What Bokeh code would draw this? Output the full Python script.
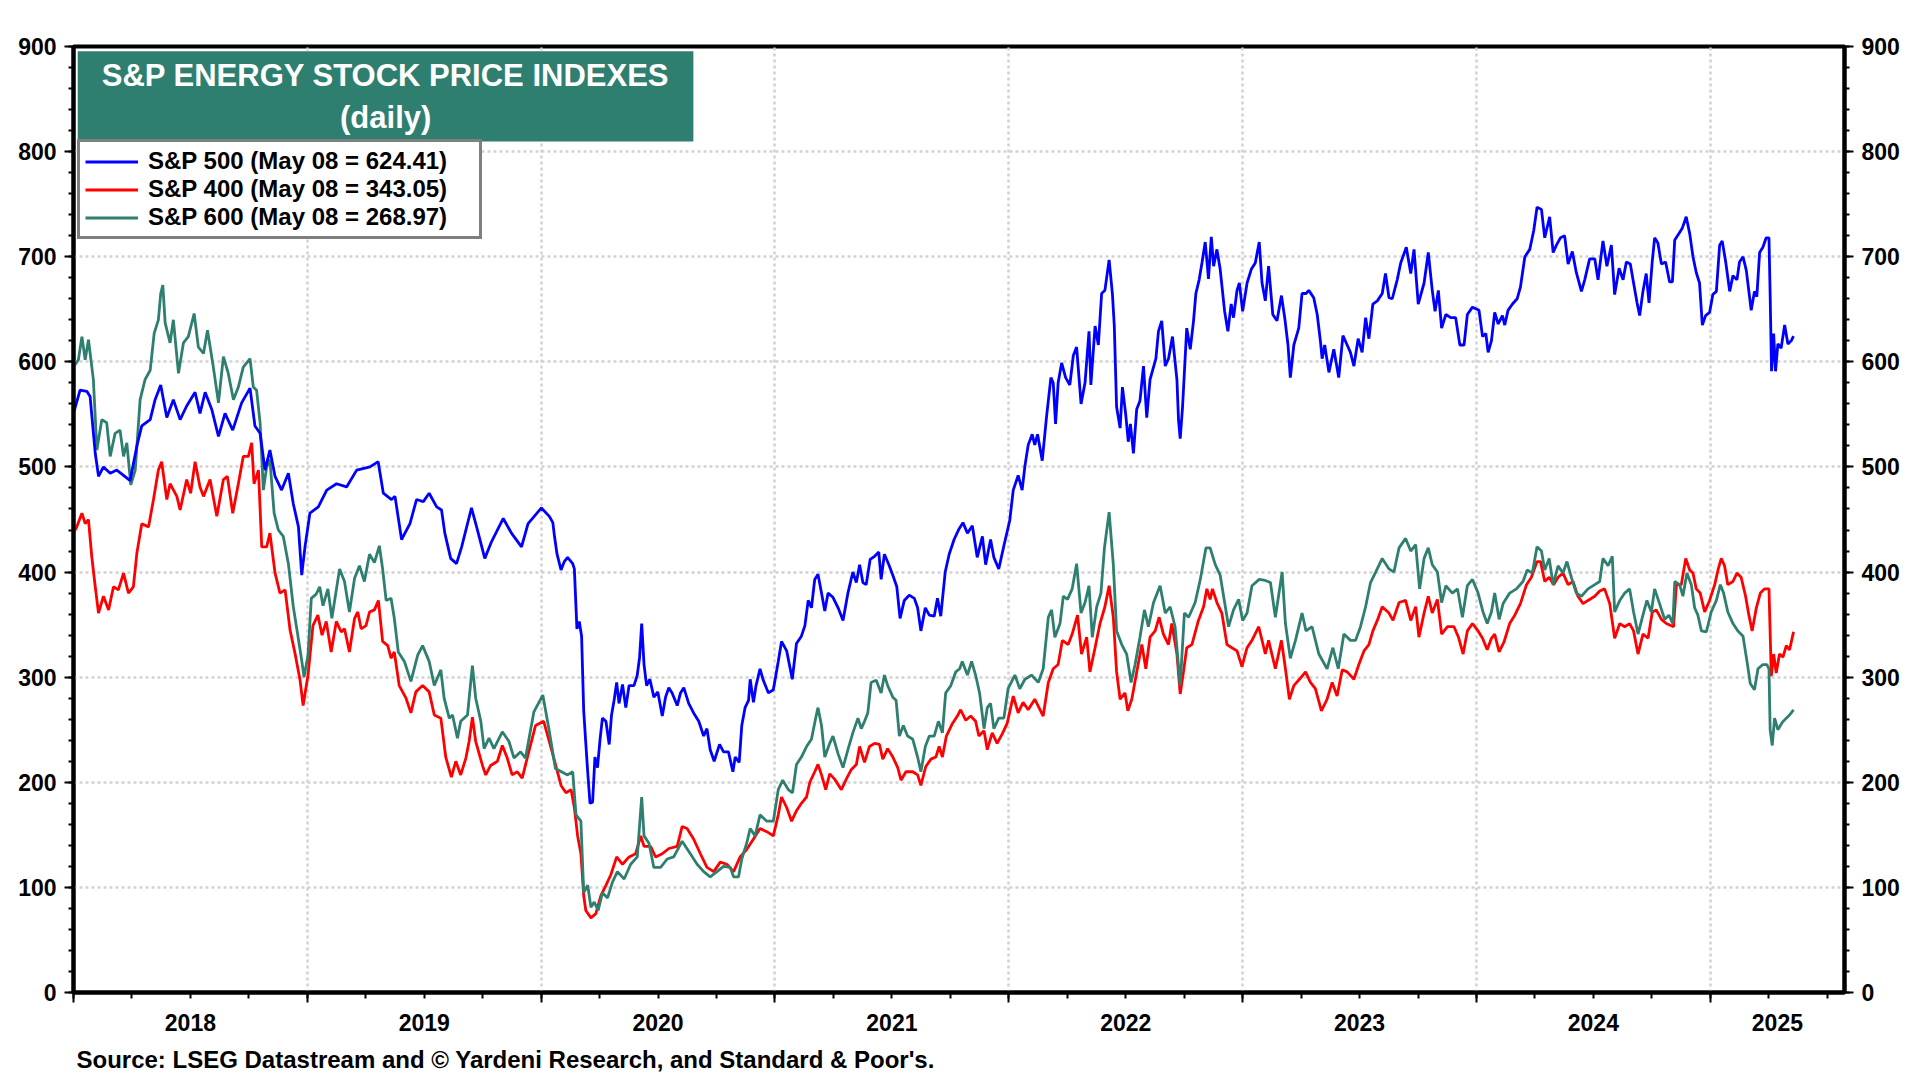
from bokeh.plotting import figure
from bokeh.models import (LinearAxis, FixedTicker, Range1d, Legend, LegendItem,
                          BoxAnnotation, Label, Title, CustomLabelingPolicy)
from bokeh.embed import file_html
from bokeh.resources import INLINE

# ---------------- data (decimal year, index level) ----------------
sp500 = [
(2018.000,551),(2018.028,573),(2018.057,572),(2018.071,567),(2018.093,513),(2018.107,491),(2018.128,500),
(2018.157,494),(2018.185,497),(2018.214,492),(2018.242,487),(2018.271,520),(2018.292,539),(2018.328,545),
(2018.349,564),(2018.373,578),(2018.399,547),(2018.427,564),(2018.456,545),(2018.484,558),(2018.520,571),
(2018.541,551),(2018.563,571),(2018.591,555),(2018.620,529),(2018.648,551),(2018.681,535),(2018.719,561),
(2018.755,575),(2018.776,539),(2018.798,532),(2018.819,497),(2018.840,516),(2018.862,491),(2018.890,478),
(2018.919,494),(2018.940,465),(2018.962,443),(2018.976,397),(2018.990,424),(2019.011,456),(2019.047,462),
(2019.083,478),(2019.125,484),(2019.168,481),(2019.211,497),(2019.268,500),(2019.303,505),(2019.325,475),
(2019.360,469),(2019.375,472),(2019.403,431),(2019.439,446),(2019.467,469),(2019.496,467),(2019.521,475),
(2019.553,462),(2019.574,459),(2019.588,437),(2019.613,413),(2019.638,408),(2019.660,424),(2019.702,461),
(2019.724,443),(2019.759,413),(2019.788,429),(2019.838,451),(2019.873,437),(2019.916,424),(2019.944,446),
(2020.001,461),(2020.035,453),(2020.050,447),(2020.057,434),(2020.068,417),(2020.085,402),(2020.099,410),
(2020.113,414),(2020.135,408),(2020.142,403),(2020.153,346),(2020.163,353),(2020.173,339),(2020.182,268),
(2020.191,237),(2020.199,210),(2020.209,180),(2020.220,181),(2020.230,224),(2020.241,214),(2020.252,241),
(2020.262,261),(2020.277,258),(2020.291,236),(2020.301,264),(2020.312,278),(2020.323,295),(2020.333,275),
(2020.348,293),(2020.362,271),(2020.376,292),(2020.397,292),(2020.411,302),(2020.421,319),(2020.430,351),
(2020.440,312),(2020.451,292),(2020.465,298),(2020.482,281),(2020.499,286),(2020.518,263),(2020.532,281),
(2020.546,290),(2020.560,285),(2020.582,273),(2020.596,285),(2020.610,290),(2020.631,275),(2020.652,266),
(2020.674,258),(2020.695,244),(2020.709,251),(2020.723,231),(2020.740,220),(2020.763,236),(2020.780,229),
(2020.801,229),(2020.820,210),(2020.830,224),(2020.847,219),(2020.858,254),(2020.872,271),(2020.887,278),
(2020.894,298),(2020.908,276),(2020.919,292),(2020.936,308),(2020.950,297),(2020.972,285),(2020.993,288),
(2021.014,315),(2021.028,334),(2021.050,325),(2021.074,298),(2021.092,332),(2021.113,339),(2021.128,349),
(2021.142,373),(2021.156,366),(2021.170,393),(2021.184,398),(2021.199,380),(2021.213,363),(2021.227,380),
(2021.248,376),(2021.270,366),(2021.291,354),(2021.312,380),(2021.333,400),(2021.348,390),(2021.362,407),
(2021.376,390),(2021.390,388),(2021.407,412),(2021.426,415),(2021.444,419),(2021.454,393),(2021.468,417),
(2021.487,407),(2021.504,397),(2021.521,386),(2021.535,356),(2021.553,373),(2021.574,378),(2021.596,375),
(2021.610,366),(2021.624,344),(2021.643,366),(2021.660,359),(2021.681,358),(2021.695,375),(2021.709,358),
(2021.728,400),(2021.745,417),(2021.766,431),(2021.787,441),(2021.804,447),(2021.823,437),(2021.844,444),
(2021.865,414),(2021.887,434),(2021.901,407),(2021.922,431),(2021.936,414),(2021.957,403),(2021.979,425),
(2022.004,449),(2022.019,478),(2022.040,492),(2022.057,478),(2022.069,501),(2022.083,521),(2022.100,531),
(2022.111,521),(2022.123,531),(2022.143,506),(2022.161,547),(2022.180,585),(2022.190,580),(2022.200,541),
(2022.211,580),(2022.226,599),(2022.243,585),(2022.261,578),(2022.276,606),(2022.290,614),(2022.309,560),
(2022.326,580),(2022.343,629),(2022.351,578),(2022.369,634),(2022.383,616),(2022.397,665),(2022.411,668),
(2022.429,697),(2022.443,665),(2022.451,635),(2022.461,557),(2022.476,537),(2022.486,576),(2022.500,550),
(2022.511,524),(2022.520,541),(2022.533,513),(2022.547,555),(2022.561,563),(2022.576,596),(2022.590,547),
(2022.604,583),(2022.629,603),(2022.640,629),(2022.654,639),(2022.669,596),(2022.683,603),(2022.700,624),
(2022.719,583),(2022.726,544),(2022.733,527),(2022.743,557),(2022.761,632),(2022.776,612),(2022.790,639),
(2022.800,665),(2022.814,678),(2022.826,694),(2022.840,714),(2022.854,679),(2022.866,719),(2022.876,691),
(2022.890,707),(2022.904,688),(2022.923,648),(2022.937,629),(2022.951,655),(2022.961,642),(2022.976,668),
(2022.986,675),(2023.000,648),(2023.019,675),(2023.037,688),(2023.054,694),(2023.071,714),(2023.083,675),
(2023.097,658),(2023.111,691),(2023.129,645),(2023.147,639),(2023.166,663),(2023.180,642),(2023.194,616),
(2023.204,585),(2023.219,616),(2023.240,632),(2023.254,665),(2023.271,665),(2023.283,668),(2023.304,661),
(2023.319,645),(2023.333,619),(2023.340,603),(2023.351,616),(2023.369,590),(2023.390,612),(2023.411,585),
(2023.429,625),(2023.447,616),(2023.461,609),(2023.476,596),(2023.494,622),(2023.511,609),(2023.526,642),
(2023.540,622),(2023.557,655),(2023.576,658),(2023.597,665),(2023.611,684),(2023.626,661),(2023.640,660),
(2023.661,678),(2023.676,694),(2023.700,709),(2023.719,684),(2023.733,707),(2023.751,655),(2023.776,675),
(2023.794,704),(2023.811,668),(2023.823,648),(2023.837,668),(2023.851,632),(2023.869,645),(2023.890,642),
(2023.911,642),(2023.929,616),(2023.947,616),(2023.961,645),(2023.983,652),(2024.011,649),(2024.026,624),
(2024.040,627),(2024.050,609),(2024.064,620),(2024.078,647),(2024.093,636),(2024.111,644),(2024.121,635),
(2024.135,649),(2024.154,655),(2024.174,660),(2024.188,671),(2024.207,700),(2024.228,707),(2024.245,725),
(2024.259,747),(2024.278,745),(2024.292,718),(2024.313,738),(2024.328,704),(2024.342,711),(2024.359,718),
(2024.377,720),(2024.392,693),(2024.410,705),(2024.427,685),(2024.449,667),(2024.463,678),(2024.484,698),
(2024.506,698),(2024.520,678),(2024.541,715),(2024.558,691),(2024.577,711),(2024.591,664),(2024.610,689),
(2024.627,678),(2024.641,695),(2024.658,693),(2024.672,675),(2024.687,656),(2024.698,644),(2024.712,667),
(2024.726,684),(2024.738,656),(2024.752,696),(2024.762,718),(2024.776,713),(2024.791,693),(2024.809,695),
(2024.826,676),(2024.838,676),(2024.848,716),(2024.866,722),(2024.880,727),(2024.897,738),(2024.912,722),
(2024.926,700),(2024.940,685),(2024.954,675),(2024.966,635),(2024.980,644),(2024.997,647),(2025.011,664),
(2025.026,667),(2025.040,711),(2025.051,715),(2025.066,695),(2025.083,667),(2025.097,682),(2025.114,678),
(2025.125,695),(2025.140,700),(2025.154,687),(2025.165,667),(2025.175,649),(2025.189,667),(2025.199,662),
(2025.211,704),(2025.225,709),(2025.239,718),(2025.251,718),(2025.256,664),(2025.262,591),(2025.271,627),
(2025.279,591),(2025.289,617),(2025.303,613),(2025.318,635),(2025.332,617),(2025.346,620),(2025.356,624.41),
]

sp400 = [
(2018.000,437),(2018.014,443),(2018.036,456),(2018.050,446),(2018.064,450),(2018.078,415),(2018.093,386),
(2018.107,361),(2018.128,377),(2018.150,364),(2018.171,386),(2018.192,383),(2018.214,399),(2018.235,380),
(2018.256,386),(2018.271,418),(2018.292,446),(2018.321,443),(2018.342,469),(2018.363,497),(2018.377,505),
(2018.399,469),(2018.413,484),(2018.442,472),(2018.456,459),(2018.484,488),(2018.501,475),(2018.520,505),
(2018.541,481),(2018.556,472),(2018.584,488),(2018.613,453),(2018.641,488),(2018.658,491),(2018.681,456),
(2018.705,484),(2018.726,510),(2018.748,510),(2018.762,523),(2018.772,484),(2018.791,497),(2018.805,424),
(2018.826,424),(2018.840,437),(2018.862,399),(2018.883,380),(2018.905,383),(2018.926,345),(2018.947,323),
(2018.969,297),(2018.982,273),(2019.003,302),(2019.024,349),(2019.045,359),(2019.063,340),(2019.081,353),
(2019.102,324),(2019.124,353),(2019.145,343),(2019.159,346),(2019.180,324),(2019.202,356),(2019.216,362),
(2019.230,346),(2019.251,349),(2019.266,362),(2019.287,364),(2019.304,373),(2019.322,334),(2019.344,330),
(2019.358,318),(2019.372,324),(2019.393,292),(2019.422,280),(2019.443,266),(2019.464,286),(2019.493,292),
(2019.521,286),(2019.543,264),(2019.571,261),(2019.592,224),(2019.616,205),(2019.635,220),(2019.656,207),
(2019.678,223),(2019.692,239),(2019.706,262),(2019.720,239),(2019.749,216),(2019.763,207),(2019.784,216),
(2019.813,220),(2019.834,235),(2019.855,223),(2019.876,207),(2019.898,210),(2019.919,204),(2019.947,229),
(2019.976,254),(2020.011,258),(2020.047,229),(2020.085,197),(2020.106,190),(2020.128,193),(2020.142,176),
(2020.156,149),(2020.170,132),(2020.182,92),(2020.191,78),(2020.213,71),(2020.234,75),(2020.255,92),
(2020.277,102),(2020.298,112),(2020.323,129),(2020.348,122),(2020.376,129),(2020.404,132),(2020.426,149),
(2020.440,139),(2020.468,139),(2020.489,129),(2020.518,132),(2020.546,137),(2020.582,139),(2020.603,158),
(2020.624,156),(2020.652,146),(2020.681,132),(2020.709,119),(2020.738,115),(2020.766,124),(2020.794,122),
(2020.823,115),(2020.851,129),(2020.879,136),(2020.908,146),(2020.936,156),(2020.965,153),(2020.993,149),
(2021.014,169),(2021.028,186),(2021.050,176),(2021.071,163),(2021.092,173),(2021.113,180),(2021.135,186),
(2021.149,200),(2021.170,210),(2021.184,217),(2021.199,207),(2021.217,193),(2021.234,208),(2021.255,203),
(2021.284,193),(2021.305,203),(2021.326,212),(2021.348,217),(2021.362,234),(2021.383,219),(2021.404,234),
(2021.426,237),(2021.447,236),(2021.461,222),(2021.482,232),(2021.504,224),(2021.525,214),(2021.539,202),
(2021.560,210),(2021.589,210),(2021.610,207),(2021.624,197),(2021.645,215),(2021.667,222),(2021.688,224),
(2021.702,234),(2021.716,224),(2021.733,244),(2021.759,256),(2021.780,263),(2021.794,269),(2021.816,259),
(2021.837,263),(2021.858,258),(2021.872,244),(2021.894,249),(2021.908,231),(2021.929,247),(2021.950,237),
(2021.972,246),(2021.993,256),(2022.019,282),(2022.040,266),(2022.061,276),(2022.083,269),(2022.111,279),
(2022.147,263),(2022.169,295),(2022.190,308),(2022.211,312),(2022.229,335),(2022.254,331),(2022.271,341),
(2022.294,359),(2022.311,322),(2022.333,338),(2022.347,305),(2022.369,328),(2022.390,351),(2022.411,367),
(2022.429,387),(2022.447,357),(2022.461,305),(2022.476,279),(2022.497,285),(2022.509,268),(2022.526,279),
(2022.547,305),(2022.569,331),(2022.586,308),(2022.604,338),(2022.626,344),(2022.643,357),(2022.661,341),
(2022.683,331),(2022.697,351),(2022.719,322),(2022.733,284),(2022.747,305),(2022.761,328),(2022.783,331),
(2022.811,354),(2022.833,367),(2022.847,384),(2022.861,374),(2022.871,384),(2022.890,371),(2022.911,361),
(2022.933,331),(2022.954,328),(2022.976,325),(2022.997,310),(2023.019,328),(2023.040,335),(2023.069,348),
(2023.097,322),(2023.111,335),(2023.140,308),(2023.166,335),(2023.183,308),(2023.200,279),(2023.219,292),
(2023.243,298),(2023.269,305),(2023.290,295),(2023.311,289),(2023.337,268),(2023.361,279),(2023.383,295),
(2023.404,282),(2023.426,307),(2023.447,305),(2023.476,298),(2023.497,312),(2023.519,325),(2023.540,331),
(2023.557,344),(2023.576,354),(2023.597,367),(2023.626,361),(2023.643,354),(2023.669,371),(2023.697,373),
(2023.719,354),(2023.740,367),(2023.754,338),(2023.776,361),(2023.794,377),(2023.811,361),(2023.833,374),
(2023.851,341),(2023.876,348),(2023.904,348),(2023.923,338),(2023.943,322),(2023.961,344),(2023.983,351),
(2024.007,344),(2024.026,337),(2024.046,326),(2024.064,337),(2024.078,341),(2024.097,324),(2024.117,333),
(2024.142,351),(2024.164,359),(2024.188,370),(2024.214,388),(2024.235,395),(2024.259,410),(2024.274,410),
(2024.292,391),(2024.311,395),(2024.330,388),(2024.349,395),(2024.370,399),(2024.392,388),(2024.413,391),
(2024.434,377),(2024.456,370),(2024.477,373),(2024.506,377),(2024.527,382),(2024.548,384),(2024.570,370),
(2024.591,337),(2024.613,351),(2024.634,348),(2024.655,351),(2024.672,344),(2024.691,322),(2024.712,341),
(2024.734,337),(2024.752,362),(2024.769,364),(2024.791,355),(2024.812,351),(2024.843,348),(2024.855,388),
(2024.876,388),(2024.895,413),(2024.912,402),(2024.926,399),(2024.940,384),(2024.957,380),(2024.976,362),
(2024.997,373),(2025.019,388),(2025.033,402),(2025.047,413),(2025.061,406),(2025.075,388),(2025.097,391),
(2025.114,399),(2025.132,395),(2025.151,377),(2025.165,359),(2025.179,344),(2025.197,366),(2025.214,380),
(2025.232,384),(2025.251,384),(2025.261,301),(2025.271,322),(2025.282,304),(2025.296,322),(2025.311,319),
(2025.325,330),(2025.339,326),(2025.356,343.05),
]

sp600 = [
(2018.000,595),(2018.021,602),(2018.036,624),(2018.050,602),(2018.064,621),(2018.085,583),(2018.100,516),
(2018.121,545),(2018.142,542),(2018.157,510),(2018.178,532),(2018.199,535),(2018.214,510),(2018.228,523),
(2018.245,483),(2018.264,497),(2018.285,564),(2018.306,583),(2018.328,592),(2018.345,627),(2018.363,640),
(2018.373,665),(2018.382,673),(2018.392,637),(2018.413,618),(2018.427,640),(2018.449,589),(2018.470,618),
(2018.491,624),(2018.516,646),(2018.534,614),(2018.556,608),(2018.573,630),(2018.598,595),(2018.620,561),
(2018.641,605),(2018.662,589),(2018.684,564),(2018.705,576),(2018.726,595),(2018.755,603),(2018.769,576),
(2018.783,573),(2018.798,542),(2018.812,478),(2018.826,500),(2018.840,507),(2018.858,456),(2018.876,440),
(2018.897,434),(2018.919,408),(2018.940,367),(2018.962,336),(2018.976,316),(2018.986,300),(2019.003,321),
(2019.017,375),(2019.038,379),(2019.053,386),(2019.067,368),(2019.088,384),(2019.105,356),(2019.138,403),
(2019.159,391),(2019.180,362),(2019.202,394),(2019.223,406),(2019.244,391),(2019.266,417),(2019.287,409),
(2019.308,425),(2019.322,403),(2019.337,373),(2019.358,375),(2019.372,356),(2019.389,324),(2019.415,315),
(2019.443,296),(2019.472,321),(2019.493,330),(2019.521,315),(2019.543,292),(2019.571,307),(2019.585,280),
(2019.607,261),(2019.621,264),(2019.642,242),(2019.656,258),(2019.685,264),(2019.706,311),(2019.720,280),
(2019.742,258),(2019.756,232),(2019.777,242),(2019.798,232),(2019.834,248),(2019.862,239),(2019.884,223),
(2019.912,229),(2019.933,223),(2019.969,267),(2020.007,283),(2020.033,251),(2020.061,213),(2020.113,207),
(2020.135,210),(2020.149,169),(2020.170,163),(2020.182,95),(2020.199,102),(2020.213,81),(2020.227,86),
(2020.244,78),(2020.262,95),(2020.284,90),(2020.305,105),(2020.326,115),(2020.355,108),(2020.383,122),
(2020.411,129),(2020.430,186),(2020.440,149),(2020.461,142),(2020.482,119),(2020.511,119),(2020.539,127),
(2020.567,129),(2020.603,144),(2020.638,132),(2020.667,122),(2020.695,115),(2020.723,110),(2020.752,115),
(2020.780,120),(2020.809,119),(2020.823,110),(2020.844,110),(2020.858,127),(2020.879,142),(2020.894,156),
(2020.915,149),(2020.936,169),(2020.965,163),(2020.993,163),(2021.014,193),(2021.033,202),(2021.057,193),
(2021.075,190),(2021.092,217),(2021.113,224),(2021.135,234),(2021.156,241),(2021.174,261),(2021.184,271),
(2021.199,254),(2021.213,224),(2021.234,237),(2021.248,244),(2021.270,227),(2021.291,214),(2021.312,231),
(2021.333,247),(2021.355,261),(2021.369,251),(2021.383,258),(2021.397,266),(2021.411,295),(2021.433,297),
(2021.454,285),(2021.468,302),(2021.482,292),(2021.504,281),(2021.518,278),(2021.532,244),(2021.549,254),
(2021.567,244),(2021.589,241),(2021.610,224),(2021.624,210),(2021.643,234),(2021.660,244),(2021.681,244),
(2021.699,258),(2021.716,247),(2021.730,285),(2021.752,292),(2021.773,305),(2021.790,308),(2021.801,315),
(2021.823,302),(2021.841,315),(2021.858,302),(2021.875,285),(2021.894,251),(2021.908,271),(2021.922,275),
(2021.936,251),(2021.957,261),(2021.979,261),(2021.997,289),(2022.026,302),(2022.047,289),(2022.069,298),
(2022.097,302),(2022.126,295),(2022.147,308),(2022.169,357),(2022.183,364),(2022.197,338),(2022.219,351),
(2022.233,377),(2022.251,374),(2022.271,384),(2022.290,408),(2022.309,361),(2022.326,371),(2022.343,387),
(2022.357,338),(2022.376,367),(2022.394,380),(2022.409,423),(2022.429,457),(2022.447,407),(2022.461,344),
(2022.483,331),(2022.504,322),(2022.523,295),(2022.540,312),(2022.561,338),(2022.580,364),(2022.597,348),
(2022.619,371),(2022.647,387),(2022.669,361),(2022.690,367),(2022.711,348),(2022.733,292),(2022.751,361),
(2022.769,357),(2022.797,371),(2022.819,393),(2022.843,423),(2022.861,423),(2022.883,407),(2022.904,397),
(2022.926,367),(2022.940,348),(2022.961,364),(2022.983,374),(2023.000,354),(2023.019,361),(2023.040,387),
(2023.071,393),(2023.097,392),(2023.119,390),(2023.140,357),(2023.169,400),(2023.183,351),(2023.204,318),
(2023.226,335),(2023.254,361),(2023.271,344),(2023.297,348),(2023.326,322),(2023.361,308),(2023.386,328),
(2023.409,308),(2023.433,341),(2023.461,335),(2023.483,335),(2023.504,348),(2023.526,367),(2023.547,390),
(2023.569,400),(2023.597,413),(2023.626,403),(2023.647,400),(2023.669,423),(2023.697,432),(2023.719,420),
(2023.740,426),(2023.757,384),(2023.776,413),(2023.794,423),(2023.811,407),(2023.833,400),(2023.851,371),
(2023.869,387),(2023.897,380),(2023.919,384),(2023.940,357),(2023.961,387),(2023.983,393),(2024.007,380),
(2024.028,362),(2024.046,351),(2024.064,362),(2024.078,380),(2024.097,355),(2024.114,370),(2024.142,380),
(2024.171,384),(2024.199,391),(2024.217,402),(2024.239,399),(2024.259,424),(2024.278,420),(2024.292,402),
(2024.311,413),(2024.328,388),(2024.349,406),(2024.370,399),(2024.387,410),(2024.406,395),(2024.427,380),
(2024.449,377),(2024.477,384),(2024.506,388),(2024.527,391),(2024.541,413),(2024.563,406),(2024.581,415),
(2024.591,362),(2024.613,373),(2024.634,380),(2024.655,384),(2024.672,362),(2024.691,341),(2024.712,359),
(2024.729,373),(2024.748,362),(2024.762,384),(2024.783,370),(2024.805,355),(2024.823,359),(2024.840,351),
(2024.848,391),(2024.869,388),(2024.883,377),(2024.900,399),(2024.919,388),(2024.933,366),(2024.947,359),
(2024.962,344),(2024.983,343),(2025.004,362),(2025.026,373),(2025.043,388),(2025.057,380),(2025.075,362),
(2025.097,351),(2025.118,344),(2025.140,339),(2025.157,315),(2025.171,294),(2025.189,288),(2025.204,308),
(2025.225,312),(2025.242,312),(2025.251,308),(2025.256,250),(2025.265,235),(2025.275,261),(2025.289,250),
(2025.308,257),(2025.325,261),(2025.339,264),(2025.356,268.97),
]

series_names = ["S&P 500 (May 08 = 624.41)", "S&P 400 (May 08 = 343.05)", "S&P 600 (May 08 = 268.97)"]
series_colors = ["#0000FF", "#FF0000", "#2E7F6F"]
year_labels = ["2018", "2019", "2020", "2021", "2022", "2023", "2024", "2025"]
y_ticks = list(range(0, 901, 100))
title_lines = ["S&P ENERGY STOCK PRICE INDEXES", "(daily)"]
source_text = "Source: LSEG Datastream and \u00a9 Yardeni Research, and Standard & Poor's."

# ---------------- figure ----------------
FONT = "Liberation Sans"
X0, X1 = 2018.0, 2025.574

p = figure(frame_width=1771, frame_height=946,
           x_range=Range1d(X0, X1), y_range=Range1d(0, 900),
           output_backend="svg", toolbar_location=None,
           min_border_left=73, min_border_top=46, min_border_right=60, min_border_bottom=0,
           background_fill_color="white", border_fill_color="white")
p.outline_line_color = "black"
p.outline_line_width = 4

# grids
year_bounds = [2019, 2020, 2021, 2022, 2023, 2024, 2025]
p.xgrid.ticker = FixedTicker(ticks=year_bounds)
p.ygrid.ticker = FixedTicker(ticks=y_ticks[1:-1])
for g in (p.xgrid, p.ygrid):
    g.grid_line_color = "#D2D2D2"
    g.grid_line_dash = "3 3"
    g.grid_line_width = 2.5

def style_y(ax):
    ax.ticker = FixedTicker(ticks=y_ticks, minor_ticks=list(range(0, 901, 20)))
    ax.axis_line_width = 4
    ax.axis_line_color = "black"
    ax.major_tick_out = 9
    ax.major_tick_in = 0
    ax.minor_tick_out = 5
    ax.minor_tick_in = 0
    ax.major_tick_line_width = 2
    ax.minor_tick_line_width = 2
    ax.major_label_standoff = 8
    ax.major_label_text_font = FONT
    ax.major_label_text_font_size = "23px"
    ax.major_label_text_font_style = "bold"
    ax.major_label_text_color = "black"

style_y(p.yaxis[0])
ry = LinearAxis()
style_y(ry)
p.add_layout(ry, "right")

# x axis 1: tick marks at years and quarters, labels suppressed
xa = p.xaxis[0]
quarters = [2018 + q / 4 for q in range(0, 31)]
xa.ticker = FixedTicker(ticks=[2018] + year_bounds, minor_ticks=quarters)
xa.axis_line_width = 4
xa.major_tick_out = 10
xa.major_tick_in = 0
xa.minor_tick_out = 6
xa.minor_tick_in = 0
xa.major_tick_line_width = 2
xa.minor_tick_line_width = 2
xa.major_label_standoff = 0
xa.major_label_text_font_size = "1px"
xa.major_label_policy = CustomLabelingPolicy(code="""
    for (let i = 0; i < indices.size; i++) { indices.unset(i) }
    return indices
""")

# x axis 2: year labels centred in each year
mids = [y + 0.5 for y in range(2018, 2025)] + [(2025 + X1) / 2]
xl = LinearAxis(ticker=FixedTicker(ticks=mids),
                major_label_overrides={m: lab for m, lab in zip(mids, year_labels)})
xl.axis_line_color = None
xl.major_tick_line_color = None
xl.minor_tick_line_color = None
xl.major_label_standoff = 1
xl.major_label_text_font = FONT
xl.major_label_text_font_size = "23px"
xl.major_label_text_font_style = "bold"
xl.major_label_text_color = "black"
p.add_layout(xl, "below")

# source line
p.add_layout(Title(text=source_text, align="left", text_font=FONT, text_font_size="24px",
                   text_font_style="bold", text_color="black", offset=3, standoff=21), "below")

# lines
parts = []
for data, color in zip([sp500, sp400, sp600], series_colors):
    parts.append(([d[0] for d in data], [d[1] for d in data], color))
r400 = p.line(parts[1][0], parts[1][1], line_color=parts[1][2], line_width=2.8)
r600 = p.line(parts[2][0], parts[2][1], line_color=parts[2][2], line_width=2.8)
r500 = p.line(parts[0][0], parts[0][1], line_color=parts[0][2], line_width=2.8)

# title box
p.add_layout(BoxAnnotation(left=2018.018, right=2020.651, bottom=809.6, top=895.5,
                           fill_color="#2E7F6F", fill_alpha=1.0, line_color=None, level="overlay"))
for txt, yv in zip(title_lines, [872.7, 832.0]):
    p.add_layout(Label(x=2019.335, y=yv, text=txt, text_align="center", text_baseline="middle",
                       text_font=FONT, text_font_size="31px", text_font_style="bold",
                       text_color="white", level="overlay"))

legend = Legend(items=[LegendItem(label=series_names[0], renderers=[r500]),
                       LegendItem(label=series_names[1], renderers=[r400]),
                       LegendItem(label=series_names[2], renderers=[r600])],
                location=(4, 753))
legend.border_line_color = "black"
legend.border_line_width = 3
legend.background_fill_color = "white"
legend.background_fill_alpha = 1.0
legend.label_text_font = FONT
legend.label_text_font_size = "24px"
legend.label_text_font_style = "bold"
legend.label_text_color = "black"
legend.glyph_width = 53
legend.glyph_height = 27
legend.label_height = 27
legend.label_width = 326
legend.label_standoff = 10
legend.spacing = 0
legend.padding = 5
legend.margin = 0
p.add_layout(legend, "center")

open("out.html", "w").write(file_html(p, INLINE))
